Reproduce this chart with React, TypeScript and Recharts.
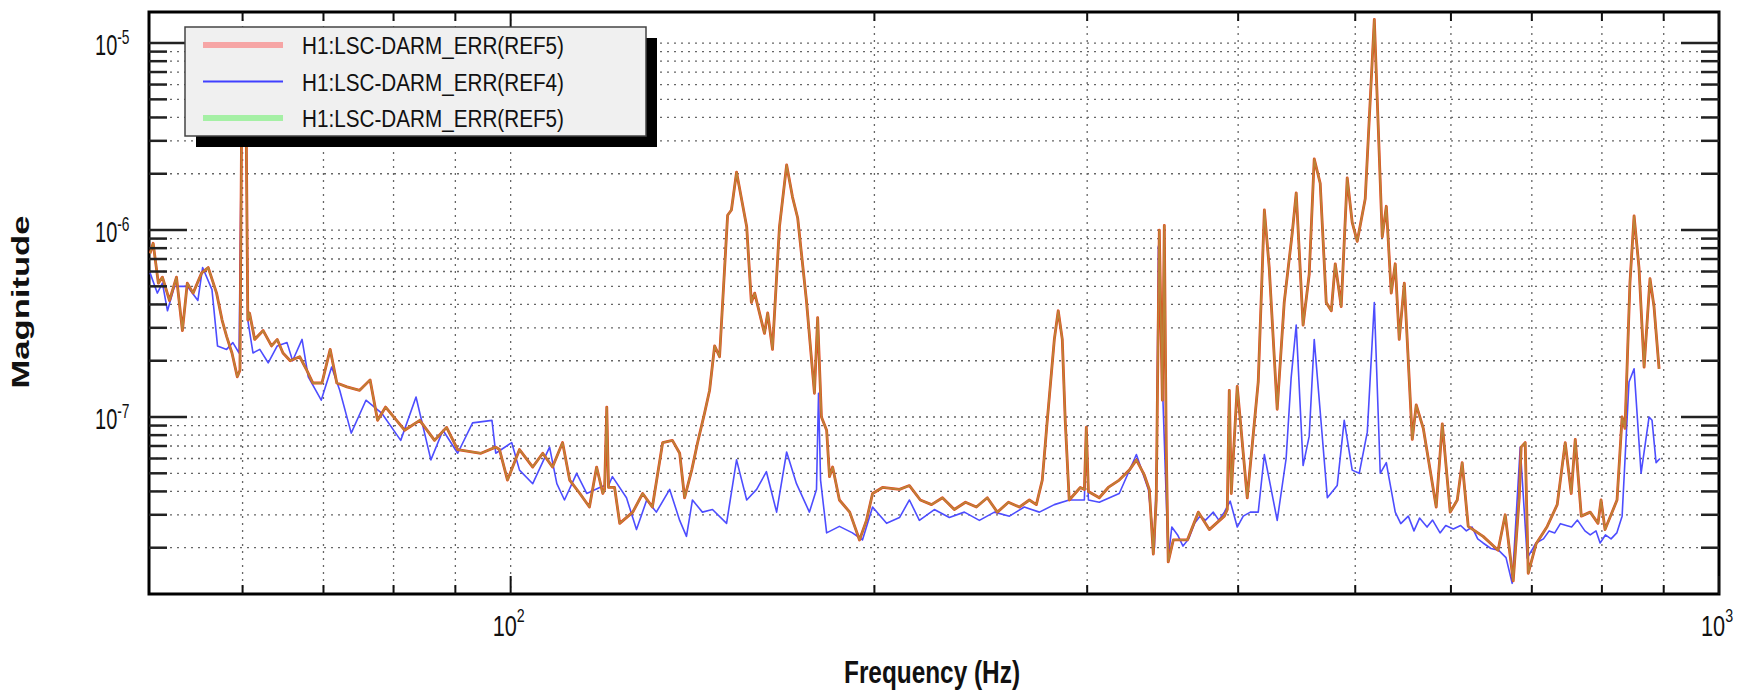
import { LineChart, Line, XAxis, YAxis, CartesianGrid, ReferenceArea } from 'recharts';

// plot frame in page pixels (layout only)
const PLOT = { left: 149, right: 1719, top: 12, bottom: 594 };
const FONT = '"Liberation Sans", Arial, sans-serif';

const X_DOMAIN: [number, number] = [50.2, 1000];
const Y_DOMAIN: [number, number] = [1.131e-8, 1.466e-5];
const X_TICKS = [60, 70, 80, 90, 100, 200, 300, 400, 500, 600, 700, 800, 900, 1000];
const Y_TICKS = [
  2e-8, 3e-8, 4e-8, 5e-8, 6e-8, 7e-8, 8e-8, 9e-8,
  1e-7, 2e-7, 3e-7, 4e-7, 5e-7, 6e-7, 7e-7, 8e-7, 9e-7,
  1e-6, 2e-6, 3e-6, 4e-6, 5e-6, 6e-6, 7e-6, 8e-6, 9e-6,
  1e-5,
];

// [frequency Hz, magnitude]
const REF5: [number, number][] = [
  [50.3, 7.5e-7], [50.6, 8.5e-7], [51.1, 5.2e-7], [51.5, 5.6e-7], [52.2, 4.2e-7], [52.9, 5.6e-7],
  [53.5, 2.9e-7], [54.0, 5.2e-7], [54.6, 4.6e-7], [55.5, 5.9e-7], [56.2, 6.3e-7], [57.1, 4.6e-7],
  [57.7, 3.3e-7], [58.2, 2.7e-7], [58.8, 2.2e-7], [59.4, 1.64e-7], [59.7, 1.78e-7], [59.9, 4.4e-6],
  [60.4, 4.4e-6], [60.6, 3.3e-7], [60.8, 3.6e-7], [61.4, 2.6e-7], [62.4, 2.9e-7], [63.4, 2.4e-7],
  [64.1, 2.6e-7], [64.8, 2.2e-7], [65.7, 2.0e-7], [66.9, 2.1e-7], [67.8, 1.78e-7], [68.6, 1.52e-7],
  [69.8, 1.52e-7], [70.9, 2.3e-7], [71.8, 1.52e-7], [73.2, 1.45e-7], [75.0, 1.39e-7], [76.5, 1.58e-7],
  [77.6, 9.6e-8], [78.8, 1.13e-7], [81.7, 8.5e-8], [84.1, 9.6e-8], [86.5, 7.5e-8], [88.5, 8.8e-8],
  [90.4, 6.7e-8], [94.5, 6.4e-8], [97.2, 6.9e-8], [97.9, 6.7e-8], [99.4, 4.6e-8], [101.7, 6.7e-8],
  [104.3, 5.4e-8], [106.3, 6.4e-8], [108.3, 5.4e-8], [110.4, 7.3e-8], [111.9, 4.6e-8], [114.1, 3.9e-8],
  [116.2, 3.3e-8], [117.8, 5.4e-8], [119.2, 3.9e-8], [119.6, 4.1e-8], [120.1, 1.13e-7], [120.5, 4.2e-8],
  [121.9, 4.2e-8], [123.1, 2.7e-8], [126.2, 3.1e-8], [128.6, 3.9e-8], [131.0, 3.3e-8], [133.6, 7.3e-8],
  [136.1, 7.5e-8], [138.0, 6.4e-8], [139.3, 3.7e-8], [141.2, 5.2e-8], [142.8, 7.3e-8], [144.7, 1.05e-7],
  [146.1, 1.39e-7], [147.5, 2.4e-7], [148.9, 2.1e-7], [151.2, 1.2e-6], [152.3, 1.28e-6], [153.8, 2.04e-6],
  [156.8, 1.04e-6], [158.2, 4.1e-7], [159.2, 4.6e-7], [162.2, 2.8e-7], [163.2, 3.6e-7], [164.7, 2.3e-7],
  [166.9, 1.04e-6], [169.2, 2.23e-6], [171.1, 1.5e-6], [172.8, 1.16e-6], [175.7, 4.2e-7], [178.4, 1.34e-7],
  [179.5, 3.4e-7], [180.8, 1.0e-7], [182.6, 8.5e-8], [183.6, 4.8e-8], [184.7, 5.4e-8], [187.1, 3.6e-8],
  [190.8, 3.1e-8], [194.4, 2.2e-8], [197.0, 2.8e-8], [199.3, 3.9e-8], [203.1, 4.2e-8], [209.8, 4.1e-8],
  [213.8, 4.3e-8], [218.3, 3.6e-8], [223.0, 3.4e-8], [227.7, 3.7e-8], [232.9, 3.2e-8], [237.9, 3.5e-8],
  [242.9, 3.3e-8], [248.0, 3.7e-8], [252.8, 3.1e-8], [258.2, 3.5e-8], [263.6, 3.3e-8], [268.7, 3.6e-8],
  [272.3, 3.4e-8], [275.4, 4.6e-8], [278.0, 9.5e-8], [281.8, 2.6e-7], [283.9, 3.7e-7], [286.1, 2.6e-7],
  [287.7, 9.6e-8], [289.9, 3.6e-8], [296.1, 4.2e-8], [298.4, 4.1e-8], [299.5, 8.8e-8], [300.7, 4.0e-8],
  [307.0, 3.7e-8], [312.3, 4.2e-8], [318.9, 4.6e-8], [325.1, 5.2e-8], [329.5, 5.9e-8], [334.5, 4.9e-8],
  [337.7, 4.1e-8], [340.3, 1.85e-8], [342.2, 3.6e-8], [344.2, 1.0e-6], [346.2, 1.23e-7], [347.5, 1.06e-6],
  [348.8, 6.7e-8], [350.1, 1.68e-8], [353.5, 2.2e-8], [363.1, 2.2e-8], [370.8, 3.1e-8], [378.6, 2.5e-8],
  [389.6, 2.95e-8], [391.8, 3.2e-8], [393.3, 1.39e-7], [394.8, 3.9e-8], [399.3, 1.46e-7], [407.0, 3.7e-8],
  [415.6, 1.54e-7], [420.5, 1.28e-6], [424.4, 6.3e-7], [430.9, 1.1e-7], [436.7, 4.1e-7], [443.4, 9.6e-7],
  [446.8, 1.58e-6], [452.7, 3.1e-7], [458.0, 5.8e-7], [462.4, 2.4e-6], [467.7, 1.78e-6], [473.1, 4.1e-7],
  [477.7, 3.7e-7], [481.3, 6.6e-7], [486.8, 3.9e-7], [492.4, 1.9e-6], [497.1, 1.1e-6], [501.9, 8.7e-7],
  [509.6, 1.47e-6], [518.5, 1.34e-5], [526.4, 9.2e-7], [530.5, 1.34e-6], [535.5, 4.6e-7], [539.6, 6.6e-7],
  [543.7, 2.6e-7], [549.0, 5.2e-7], [557.4, 7.6e-8], [561.6, 1.16e-7], [569.2, 8.7e-8], [583.4, 3.3e-8],
  [590.2, 9.2e-8], [599.2, 3.1e-8], [607.3, 3.6e-8], [613.0, 5.7e-8], [620.1, 2.6e-8], [637.9, 2.3e-8],
  [656.4, 1.94e-8], [665.4, 3.0e-8], [675.6, 1.33e-8], [683.4, 3.7e-8], [685.9, 6.9e-8], [691.2, 7.3e-8],
  [695.2, 1.46e-8], [705.8, 2.1e-8], [720.8, 2.6e-8], [734.7, 3.4e-8], [746.0, 7.3e-8], [754.6, 3.9e-8],
  [760.4, 7.6e-8], [769.2, 2.95e-8], [782.4, 3.1e-8], [794.1, 2.7e-8], [798.7, 3.6e-8], [804.8, 2.5e-8],
  [823.4, 3.6e-8], [831.4, 1.0e-7], [836.0, 8.7e-8], [843.9, 5.2e-7], [850.6, 1.19e-6], [858.6, 6.3e-7],
  [867.0, 1.85e-7], [876.8, 5.5e-7], [883.5, 3.9e-7], [892.1, 1.81e-7],
];

const REF4: [number, number][] = [
  [50.3, 5.9e-7], [51.0, 4.6e-7], [51.5, 5.2e-7], [52.0, 3.7e-7], [52.7, 5.0e-7], [54.0, 5.0e-7],
  [55.1, 4.2e-7], [55.6, 6.3e-7], [56.6, 4.8e-7], [57.2, 2.4e-7], [58.2, 2.3e-7], [58.9, 2.5e-7],
  [59.6, 2.2e-7], [59.9, 4.1e-6], [60.4, 4.1e-6], [60.6, 3.3e-7], [61.2, 2.2e-7], [62.0, 2.3e-7],
  [63.0, 1.95e-7], [64.1, 2.4e-7], [65.3, 2.5e-7], [66.0, 2.0e-7], [67.2, 2.6e-7], [68.0, 1.64e-7],
  [69.7, 1.23e-7], [71.1, 1.85e-7], [72.2, 1.39e-7], [73.8, 8.2e-8], [75.9, 1.23e-7], [78.2, 1.05e-7],
  [81.1, 7.5e-8], [83.5, 1.28e-7], [85.9, 5.9e-8], [87.9, 8.5e-8], [90.4, 6.4e-8], [93.0, 9.3e-8],
  [96.5, 9.6e-8], [97.2, 6.4e-8], [100.2, 7.3e-8], [101.7, 5.2e-8], [104.3, 4.4e-8], [107.7, 6.9e-8],
  [109.2, 4.4e-8], [110.8, 3.6e-8], [113.4, 5.0e-8], [115.6, 3.9e-8], [118.5, 4.2e-8], [119.6, 4.3e-8],
  [120.1, 9.6e-8], [120.5, 4.3e-8], [121.4, 4.8e-8], [124.7, 3.7e-8], [127.1, 2.5e-8], [129.6, 3.6e-8],
  [132.0, 3.1e-8], [135.4, 4.1e-8], [138.0, 2.8e-8], [139.8, 2.3e-8], [141.4, 3.6e-8], [144.1, 3.1e-8],
  [146.9, 3.2e-8], [150.9, 2.7e-8], [153.8, 5.9e-8], [156.8, 3.6e-8], [159.8, 4.1e-8], [162.8, 5.1e-8],
  [166.0, 3.1e-8], [169.2, 6.5e-8], [172.4, 4.4e-8], [176.7, 3.1e-8], [179.1, 4.1e-8], [179.8, 1.34e-7],
  [180.5, 4.6e-8], [182.6, 2.4e-8], [187.1, 2.6e-8], [191.8, 2.4e-8], [195.5, 2.2e-8], [199.3, 3.3e-8],
  [204.7, 2.7e-8], [209.8, 2.9e-8], [213.8, 3.6e-8], [217.9, 2.8e-8], [224.2, 3.2e-8], [230.7, 2.9e-8],
  [237.4, 3.1e-8], [244.3, 2.8e-8], [251.4, 3.1e-8], [258.7, 2.95e-8], [266.1, 3.3e-8], [273.9, 3.1e-8],
  [281.8, 3.4e-8], [289.9, 3.6e-8], [298.4, 3.6e-8], [299.5, 8.5e-8], [300.7, 3.6e-8], [307.0, 3.5e-8],
  [318.9, 3.9e-8], [329.5, 6.3e-8], [337.1, 4.1e-8], [341.0, 2.0e-8], [342.5, 6.0e-8], [343.6, 8.2e-7],
  [346.2, 1.54e-7], [350.1, 1.76e-8], [352.5, 2.58e-8], [356.4, 2.34e-8], [360.1, 2.04e-8], [364.0, 2.23e-8],
  [368.0, 2.69e-8], [371.9, 2.95e-8], [375.9, 2.81e-8], [381.5, 3.1e-8], [385.5, 2.81e-8], [389.6, 3.1e-8],
  [394.0, 3.55e-8], [399.3, 2.58e-8], [403.9, 2.95e-8], [409.4, 3.1e-8], [415.6, 3.1e-8], [420.5, 6.3e-8],
  [430.9, 2.8e-8], [438.3, 6.0e-8], [442.5, 1.62e-7], [446.8, 3.1e-7], [452.7, 5.5e-8], [458.0, 7.9e-8],
  [462.4, 2.6e-7], [474.1, 3.7e-8], [483.1, 4.3e-8], [489.6, 9.6e-8], [497.1, 5.2e-8], [503.8, 5.0e-8],
  [511.6, 8.3e-8], [518.5, 4.1e-7], [524.4, 5.0e-8], [530.5, 5.7e-8], [533.3, 4.7e-8], [539.6, 3.1e-8],
  [545.3, 2.69e-8], [553.2, 2.95e-8], [559.2, 2.46e-8], [565.2, 2.88e-8], [573.3, 2.58e-8], [579.4, 2.81e-8],
  [587.7, 2.4e-8], [594.1, 2.63e-8], [602.7, 2.52e-8], [611.2, 2.63e-8], [617.9, 2.46e-8], [624.7, 2.58e-8],
  [631.4, 2.23e-8], [637.9, 2.12e-8], [647.5, 1.98e-8], [656.9, 1.94e-8], [666.4, 1.77e-8], [674.3, 1.29e-8],
  [684.7, 6.9e-8], [693.9, 1.76e-8], [705.6, 2.12e-8], [715.7, 2.23e-8], [723.5, 2.46e-8], [731.3, 2.4e-8],
  [739.2, 2.69e-8], [747.5, 2.63e-8], [755.1, 2.58e-8], [763.6, 2.81e-8], [774.5, 2.46e-8], [782.4, 2.34e-8],
  [791.1, 2.46e-8], [797.3, 2.12e-8], [805.4, 2.34e-8], [814.1, 2.23e-8], [823.0, 2.4e-8], [831.4, 2.95e-8],
  [842.4, 1.54e-7], [850.6, 1.81e-7], [862.0, 5.0e-8], [875.2, 1.0e-7], [880.2, 9.6e-8], [887.0, 5.7e-8],
  [893.7, 6.0e-8],
];

const LEGEND = [
  { name: 'H1:LSC-DARM_ERR(REF5)', color: '#f6a5a5', width: 6 },
  { name: 'H1:LSC-DARM_ERR(REF4)', color: '#4040ff', width: 2 },
  { name: 'H1:LSC-DARM_ERR(REF5)', color: '#a5f0a5', width: 6 },
];

const ref5Data = REF5.map(([f, m]) => ({ f, m }));
const ref4Data = REF4.map(([f, m]) => ({ f, m }));

function decade(v: number): number | null {
  const l = Math.log10(v);
  const r = Math.round(l);
  return Math.abs(l - r) < 1e-6 ? r : null;
}

function XTick(props: any) {
  const { x, payload } = props;
  const e = decade(payload.value);
  const len = e !== null ? 18 : 9;
  return (
    <g>
      <line x1={x} x2={x} y1={PLOT.bottom} y2={PLOT.bottom - len} stroke="#111" strokeWidth={2} />
      <line x1={x} x2={x} y1={PLOT.top} y2={PLOT.top + len} stroke="#111" strokeWidth={2} />
      {e !== null && (
        <text transform={`translate(${x - 18},636) scale(0.75,1)`} fontFamily={FONT} fill="#111" fontSize={29}>
          10<tspan fontSize={19} dy={-14}>{e}</tspan>
        </text>
      )}
    </g>
  );
}

function YTick(props: any) {
  const { y, payload } = props;
  const e = decade(payload.value);
  const len = e !== null ? 38 : 18;
  return (
    <g>
      <line x1={PLOT.left} x2={PLOT.left + len} y1={y} y2={y} stroke="#222" strokeWidth={2.5} />
      <line x1={PLOT.right - len} x2={PLOT.right} y1={y} y2={y} stroke="#222" strokeWidth={2.5} />
      {e !== null && (
        <text transform={`translate(95,${y + 12}) scale(0.69,1)`} fontFamily={FONT} fill="#111" fontSize={29}>
          10<tspan fontSize={20} dy={-11}>{e}</tspan>
        </text>
      )}
    </g>
  );
}

export default function App() {
  return (
    <div style={{ position: 'absolute', left: 0, top: 0, width: 1739, height: 691, background: '#fff' }}>
      <LineChart width={1739} height={691} margin={{ top: 12, right: 20, bottom: 0, left: 0 }}>
        <CartesianGrid stroke="#666" strokeDasharray="2 5" strokeWidth={1.3} />
        <XAxis
          dataKey="f"
          type="number"
          scale="log"
          domain={X_DOMAIN}
          allowDataOverflow
          ticks={X_TICKS}
          interval={0}
          height={97}
          tickSize={0}
          tickMargin={0}
          axisLine={false}
          tick={<XTick />}
          label={{
            content: () => (
              <text x={932} y={683} textAnchor="middle" fontFamily={FONT} fontWeight="bold" fontSize={32}
                textLength={176} lengthAdjust="spacingAndGlyphs" fill="#111">
                Frequency (Hz)
              </text>
            ),
          }}
        />
        <YAxis
          type="number"
          scale="log"
          domain={Y_DOMAIN}
          allowDataOverflow
          ticks={Y_TICKS}
          interval={0}
          width={149}
          tickSize={0}
          tickMargin={0}
          axisLine={false}
          tick={<YTick />}
          label={{
            content: () => (
              <text transform="translate(28.5,302) rotate(-90) scale(1,0.72)" textAnchor="middle"
                fontFamily={FONT} fontWeight="bold" fontSize={32} textLength={173}
                lengthAdjust="spacingAndGlyphs" fill="#111">
                Magnitude
              </text>
            ),
          }}
        />
        <Line data={ref4Data} dataKey="m" stroke="#4d4dff" strokeWidth={1.6} dot={false}
          isAnimationActive={false} strokeLinejoin="round" />
        <Line data={ref5Data} dataKey="m" stroke="#e8401c" strokeWidth={2.8} dot={false}
          isAnimationActive={false} strokeLinejoin="round" />
        <Line data={ref5Data} dataKey="m" stroke="#9cb04a" strokeOpacity={0.6} strokeWidth={1.8} dot={false}
          isAnimationActive={false} strokeLinejoin="round" />
        <ReferenceArea x1={X_DOMAIN[0]} x2={X_DOMAIN[1]} y1={Y_DOMAIN[0]} y2={Y_DOMAIN[1]}
          fill="none" stroke="#000" strokeWidth={3} ifOverflow="visible" />
      </LineChart>
      <svg width={1739} height={691} style={{ position: 'absolute', left: 0, top: 0, pointerEvents: 'none' }}>
        <rect x={196} y={38} width={461} height={109} fill="#000" />
        <rect x={185} y={27} width={461} height={109} fill="#f0f0f0" stroke="#444" strokeWidth={1.5} />
        {LEGEND.map((s, i) => (
          <g key={i}>
            <line x1={203} x2={283} y1={45 + i * 36.5} y2={45 + i * 36.5} stroke={s.color} strokeWidth={s.width} />
            <text x={302} y={54 + i * 36.5} fontFamily={FONT} fontSize={23.5} fill="#111"
              textLength={262} lengthAdjust="spacingAndGlyphs">
              {s.name}
            </text>
          </g>
        ))}
      </svg>
    </div>
  );
}
